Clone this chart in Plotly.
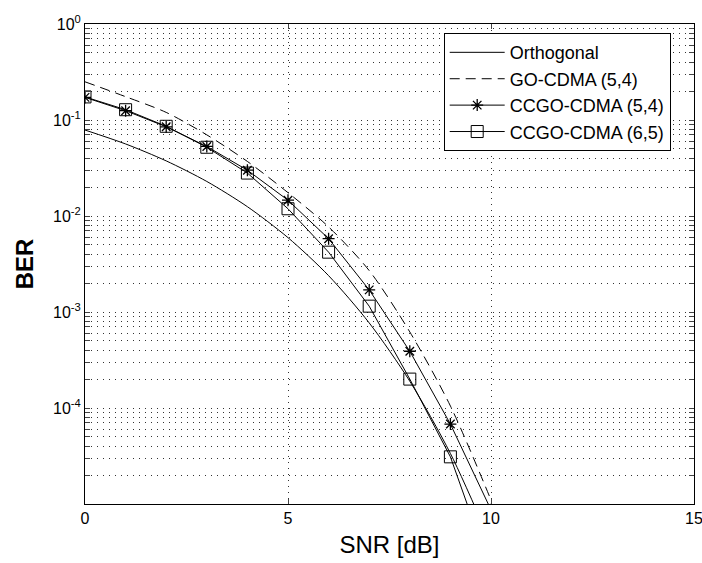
import plotly.graph_objects as go

snr = [0, 1, 2, 3, 4, 5, 6, 7, 8, 9, 10]
ber_orth = [0.0786, 0.0563, 0.0375, 0.0229, 0.0125, 0.00595, 0.00239, 7.7e-4, 1.9e-4, 3.36e-5, 3.87e-6]
ber_go = [0.25, 0.175, 0.12, 0.07, 0.037, 0.0175, 0.0077, 0.0027, 6.2e-4, 1.05e-4, 1.1e-5]
ber_cc54 = [0.172, 0.125, 0.085, 0.053, 0.030, 0.0146, 0.0058, 0.0017, 3.9e-4, 6.8e-5, 8.7e-6]
ber_cc65 = [0.174, 0.128, 0.086, 0.052, 0.028, 0.0119, 0.0042, 0.00115, 2.0e-4, 3.1e-5, 2.0e-6]

names = ["Orthogonal", "GO-CDMA (5,4)", "CCGO-CDMA (5,4)", "CCGO-CDMA (6,5)"]

x_ticks = [0, 5, 10, 15]
decades = [1e-5, 1e-4, 1e-3, 1e-2, 1e-1, 1e0]
decade_labels = ["", "10<sup>-4</sup>", "10<sup>-3</sup>", "10<sup>-2</sup>", "10<sup>-1</sup>", "10<sup>0</sup>"]

yvals, ytext = [], []
for d, lab in zip(decades, decade_labels):
    yvals.append(d)
    ytext.append(lab)
    if d < 1:
        for m in range(2, 10):
            yvals.append(d * m)
            ytext.append("")

fig = go.Figure()
fig.add_trace(go.Scatter(x=snr, y=ber_orth, name=names[0], mode="lines",
                         line=dict(color="black", width=1, shape="spline", smoothing=0.8),
                         legendgroup="a"))
fig.add_trace(go.Scatter(x=snr, y=ber_go, name=names[1], mode="lines",
                         line=dict(color="black", width=1, dash="10px,6px", shape="spline", smoothing=0.8),
                         legendgroup="b"))
fig.add_trace(go.Scatter(x=snr, y=ber_cc54, name=names[2], mode="lines+markers",
                         line=dict(color="black", width=1),
                         marker=dict(symbol="asterisk-open", size=10, color="black",
                                     line=dict(width=1.3, color="black")), legendgroup="c"))
fig.add_trace(go.Scatter(x=snr, y=ber_cc65, name=names[3], mode="lines+markers",
                         line=dict(color="black", width=1),
                         marker=dict(symbol="square-open", size=12, color="black",
                                     line=dict(width=1, color="black")), legendgroup="d"))

grid_style = dict(showgrid=True, gridcolor="#333333", gridwidth=1, griddash="1px,5px")

fig.update_layout(
    width=702, height=563,
    margin=dict(l=85, r=8, t=24, b=59),
    paper_bgcolor="white", plot_bgcolor="white",
    font=dict(family="Liberation Sans, Arial, sans-serif", size=16, color="black"),
    legend=dict(x=0.589, y=0.981, xanchor="left", yanchor="top",
                bgcolor="white", bordercolor="black", borderwidth=1,
                font=dict(size=18), tracegroupgap=0, itemwidth=55),
    xaxis=dict(range=[0, 15], tickvals=x_ticks, ticks="inside", ticklen=5,
               showline=True, linecolor="black", linewidth=1, mirror="allticks",
               zeroline=False, automargin=False, ticklabeloverflow="allow",
               title=dict(text="SNR [dB]", font=dict(size=24), standoff=9),
               **grid_style),
    yaxis=dict(type="log", range=[-5, 0], tickvals=yvals, ticktext=ytext,
               ticks="inside", ticklen=5,
               showline=True, linecolor="black", linewidth=1, mirror="allticks",
               zeroline=False, automargin=False, ticklabeloverflow="allow",
               title=dict(text="<b>BER</b>", font=dict(size=24), standoff=12),
               **grid_style),
)

fig.write_html("out.html", config={"displayModeBar": False},
               post_script="document.body.style.margin='0';document.body.style.overflow='hidden';")
